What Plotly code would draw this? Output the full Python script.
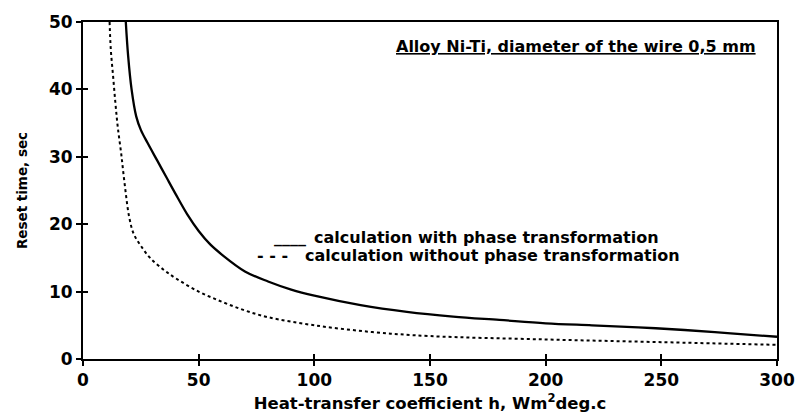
import plotly.graph_objects as go

# Reset time vs. heat-transfer coefficient, Ni-Ti wire 0.5 mm
h_with = [18.5, 19.5, 21, 23, 25, 28, 32, 36, 40, 45, 50, 55, 60, 70, 80, 90,
          100, 120, 140, 160, 180, 200, 220, 240, 260, 280, 300]
t_with = [50, 45, 40, 36, 34, 32, 29.5, 27, 24.5, 21.5, 19, 17, 15.5, 13, 11.5, 10.3,
          9.4, 8, 7, 6.3, 5.8, 5.3, 5, 4.7, 4.3, 3.8, 3.3]

h_without = [11.5, 12, 13, 14, 15, 16.5, 18, 20, 22, 25, 29, 35, 40, 50, 60, 70, 80,
             100, 125, 150, 200, 250, 300]
t_without = [50, 46, 42, 38, 34.5, 30.5, 26, 21, 18.5, 16.8, 15, 13.2, 12, 10, 8.5, 7.2, 6.2,
             5, 4, 3.4, 2.9, 2.5, 2.1]

x_ticks = [0, 50, 100, 150, 200, 250, 300]
y_ticks = [0, 10, 20, 30, 40, 50]

title_text = "<u>Alloy Ni-Ti, diameter of the wire 0,5 mm</u>"
legend_rows = [
    ("____", "calculation with phase transformation"),
    ("- - -", "calculation without phase transformation"),
]
x_title = "Heat-transfer coefficient h, Wm<sup>2</sup>deg.c"
y_title = "Reset time, sec"

FONT = "DejaVu Sans"


def bold(size):
    return dict(family=FONT, size=size, color="black", weight="bold")


fig = go.Figure()
fig.add_trace(go.Scatter(x=h_with, y=t_with, mode="lines", line=dict(color="black", width=2.3),
                         line_shape="spline", showlegend=False, xaxis="x", yaxis="y"))
fig.add_trace(go.Scatter(x=h_without, y=t_without, mode="lines",
                         line=dict(color="black", width=2, dash="dot"),
                         line_shape="spline", showlegend=False, xaxis="x2", yaxis="y2"))

axis_common = dict(showgrid=False, zeroline=False, showline=True, linecolor="black",
                   linewidth=2, tickcolor="black", tickwidth=1.5, ticklen=5, automargin=False)
# second set of axes only adds the inner half of each tick mark
inner_ticks = dict(showticklabels=False, showgrid=False, zeroline=False, showline=False,
                   ticks="inside", tickcolor="black", tickwidth=1.5, ticklen=5, automargin=False)

fig.update_layout(
    width=795, height=416,
    margin=dict(l=83, r=18, t=22, b=57),
    paper_bgcolor="white", plot_bgcolor="white",
    xaxis=dict(range=[0, 300], tickvals=x_ticks, ticks="outside", mirror=True,
               tickfont=bold(17),
               title=dict(text=x_title, font=bold(16.5), standoff=8), **axis_common),
    yaxis=dict(range=[0, 50], tickvals=y_ticks, ticks="outside", mirror=True,
               tickfont=bold(17),
               title=dict(text=y_title, font=bold(13.5), standoff=18), **axis_common),
    xaxis2=dict(range=[0, 300], tickvals=x_ticks, overlaying="x", anchor="y2", **inner_ticks),
    yaxis2=dict(range=[0, 50], tickvals=y_ticks, overlaying="y", side="left", anchor="x2",
                **inner_ticks),
)

annotations = [
    dict(text=title_text, xref="paper", yref="paper", x=0.973, y=0.926,
         xanchor="right", yanchor="middle", showarrow=False, font=bold(16)),
]
# legend drawn as text rows: symbol column, then description column
sym_x = [0.272, 0.248]
txt_x = [0.330, 0.317]
row_y = [0.362, 0.306]
for (sym, label), sx, tx, ry in zip(legend_rows, sym_x, txt_x, row_y):
    annotations.append(dict(text=sym, xref="paper", yref="paper", x=sx, y=ry,
                            xanchor="left", yanchor="middle", showarrow=False, font=bold(16)))
    annotations.append(dict(text=label, xref="paper", yref="paper", x=tx, y=ry,
                            xanchor="left", yanchor="middle", showarrow=False, font=bold(16)))
fig.update_layout(annotations=annotations)

fig.write_html("out.html")
